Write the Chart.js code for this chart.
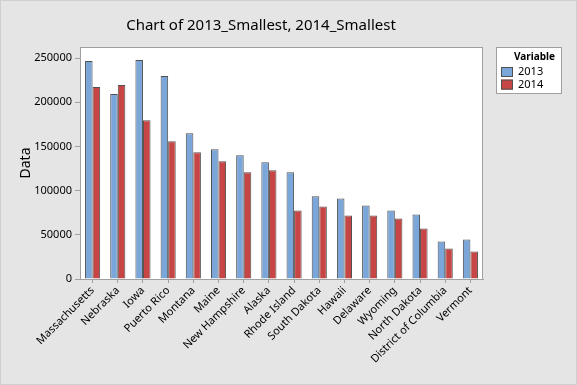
<!DOCTYPE html>
<html>
<head>
<meta charset="utf-8">
<script src="https://cdn.jsdelivr.net/npm/chart.js@4"></script>
<style>
  html, body { margin: 0; padding: 0; background: #e5e5e5; }
  #wrap { width: 577px; height: 385px; }
</style>
</head>
<body>
<div id="wrap"><canvas id="chart" width="577" height="385"></canvas></div>
<script>
const states = ["Massachusetts", "Nebraska", "Iowa", "Puerto Rico", "Montana", "Maine",
  "New Hampshire", "Alaska", "Rhode Island", "South Dakota", "Hawaii", "Delaware",
  "Wyoming", "North Dakota", "District of Columbia", "Vermont"]
const smallest2013 = [246600, 209200, 247700, 229600, 164900, 146800, 140000, 132000,
  120700, 93500, 91200, 83300, 77600, 73000, 42400, 44700]
const smallest2014 = [217100, 219400, 179700, 155800, 143400, 133200, 120700, 123000,
  77600, 82100, 71900, 71900, 68500, 57200, 34500, 31100]
const yTicks = [0, 50000, 100000, 150000, 200000, 250000]

const font = "'Noto Sans', 'DejaVu Sans', sans-serif"
Chart.defaults.font.family = font
Chart.defaults.color = "#000"

const BLUE = "#7ba6da"
const RED = "#c84545"
const EDGE = "#505050"

// background, frame, title and the boxed legend
const decor = {
    id: "decor",
    beforeDraw(chart) {
        const ctx = chart.ctx
        ctx.save()
        ctx.fillStyle = "#e5e5e5"
        ctx.fillRect(0, 0, chart.width, chart.height)
        ctx.strokeStyle = "#cfcfcf"
        ctx.lineWidth = 1
        ctx.strokeRect(0.5, 0.5, chart.width - 1, chart.height - 1)
        const a = chart.chartArea
        ctx.fillStyle = "#fff"
        ctx.fillRect(a.left, a.top, a.right - a.left, a.bottom - a.top)
        ctx.restore()
    },
    afterDraw(chart) {
        const ctx = chart.ctx
        const a = chart.chartArea
        ctx.save()
        ctx.strokeStyle = "#a0a0a0"
        ctx.lineWidth = 1
        ctx.strokeRect(a.left + 0.5, a.top + 0.5, a.right - a.left - 1, a.bottom - a.top)

        ctx.fillStyle = "#000"
        ctx.textAlign = "center"
        ctx.textBaseline = "middle"
        ctx.font = "15px " + font
        ctx.fillText("Chart of 2013_Smallest, 2014_Smallest", 261, 26)

        // legend
        const lx = 496, ly = 47
        ctx.fillStyle = "#fff"
        ctx.fillRect(lx, ly, 65, 46)
        ctx.strokeStyle = "#a0a0a0"
        ctx.strokeRect(lx + 0.5, ly + 0.5, 65, 46)
        ctx.fillStyle = "#000"
        ctx.textAlign = "right"
        ctx.font = "bold 10px " + font
        ctx.fillText("Variable", lx + 59, ly + 10)
        ctx.textAlign = "left"
        ctx.font = "11px " + font
        chart.data.datasets.forEach((ds, i) => {
            const y = ly + 20 + i * 12.6
            ctx.fillStyle = ds.backgroundColor
            ctx.fillRect(lx + 5, y, 12, 10)
            ctx.strokeStyle = EDGE
            ctx.strokeRect(lx + 5.5, y + 0.5, 11, 9)
            ctx.fillStyle = "#000"
            ctx.fillText(ds.label, lx + 22, y + 5)
        })
        ctx.restore()
    }
}

new Chart(document.getElementById("chart"), {
    type: "bar",
    data: {
        labels: states,
        datasets: [
            { label: "2013", data: smallest2013, backgroundColor: BLUE, borderColor: EDGE, borderWidth: 1 },
            { label: "2014", data: smallest2014, backgroundColor: RED, borderColor: EDGE, borderWidth: 1 }
        ]
    },
    options: {
        responsive: false,
        animation: false,
        layout: { padding: { left: 0, right: 94, top: 47, bottom: 0 } },
        datasets: { bar: { categoryPercentage: 0.6, barPercentage: 1 } },
        plugins: { legend: { display: false }, title: { display: false }, tooltip: { enabled: false } },
        scales: {
            x: {
                afterFit(scale) { scale.height = 106 },
                grid: { offset: false, drawOnChartArea: false, tickLength: 4, color: "#a0a0a0" },
                border: { color: "#a0a0a0" },
                ticks: { minRotation: 45, maxRotation: 45, autoSkip: false, font: { size: 11 }, padding: 1 }
            },
            y: {
                min: 0,
                max: 262500,
                afterFit(scale) { scale.width = 80 },
                afterBuildTicks(scale) { scale.ticks = yTicks.map(v => ({ value: v })) },
                grid: { drawOnChartArea: false, tickLength: 5, color: "#a0a0a0" },
                border: { color: "#a0a0a0" },
                ticks: { font: { size: 11 }, padding: 3, callback: v => String(v) },
                title: { display: true, text: "Data", font: { size: 14 }, padding: { top: 18, bottom: 0 } }
            }
        }
    },
    plugins: [decor]
})
</script>
</body>
</html>
